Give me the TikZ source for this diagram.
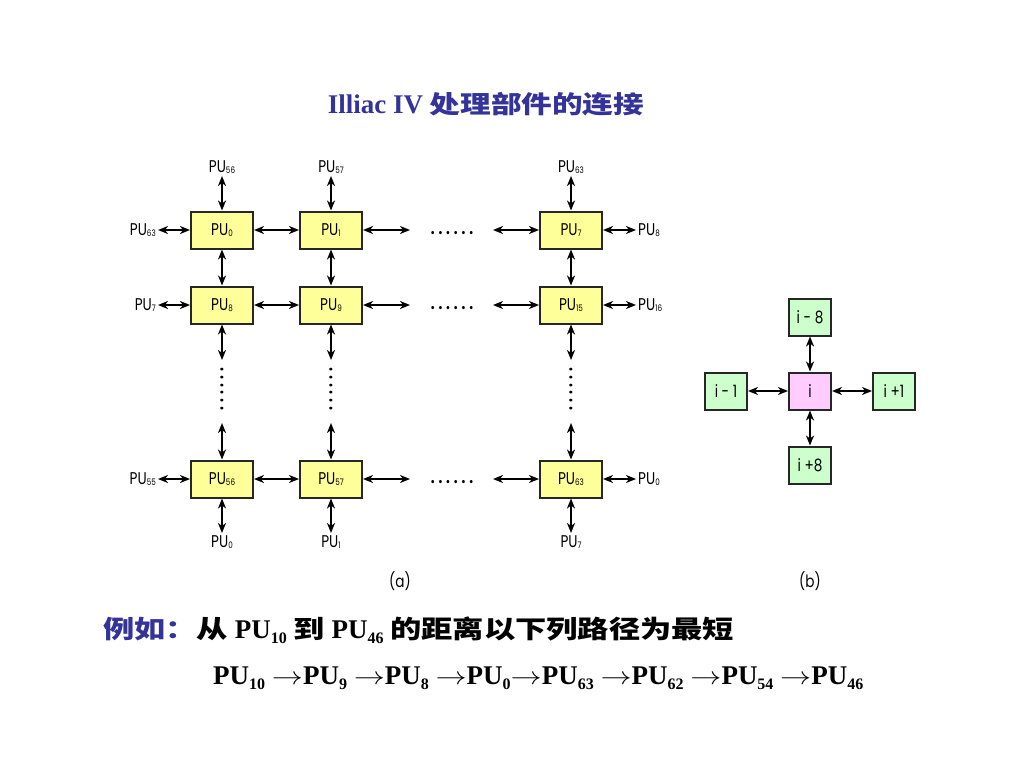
\documentclass[tikz,border=0pt]{standalone}
\usepackage{fontspec}
\usepackage{tikz}
\usetikzlibrary{arrows.meta}
\usepackage{xcolor}
\setmainfont{Liberation Serif}
\newfontfamily\cjk[FakeStretch=1.25]{Noto Sans CJK SC}
\newfontfamily\labfont[FakeStretch=0.8]{Poppins}
\definecolor{titleblue}{RGB}{51,51,153}
\definecolor{puyellow}{RGB}{255,255,153}
\definecolor{cellpink}{RGB}{255,204,255}
\definecolor{cellgreen}{RGB}{204,255,204}
\newcommand{\pu}[1]{PU\raisebox{-1pt}{\fontsize{9}{9}\selectfont #1}}
\newcommand{\bpu}[1]{PU\raisebox{-5pt}{\fontsize{16}{16}\selectfont #1}}
\newcommand{\via}{\scalebox{1.25}[1]{$\rightarrow$}}

\begin{document}
\begin{tikzpicture}[x=1pt, y=-1pt,
  pu/.style={draw=black!85, line width=2pt, fill=puyellow, minimum width=62pt, minimum height=37pt, inner sep=0pt, font=\labfont\fontsize{17}{17}\selectfont},
  cell/.style={draw=black!85, line width=2pt, fill=cellgreen, minimum width=42pt, minimum height=37pt, inner sep=0pt, font=\labfont\fontsize{17}{17}\selectfont},
  lbl/.style={inner sep=2pt, font=\labfont\fontsize{17}{17}\selectfont},
  link/.style={<->, line width=2pt},
  >={Stealth[length=10pt,width=8pt,inset=3pt]}]
  \useasboundingbox (0,0) rectangle (1024,768);
  \node[font=\bfseries\fontsize{27}{30}\selectfont, text=titleblue, anchor=base] (title) at (486,113) {Illiac IV {\cjk\fontsize{24.5}{30}\selectfont 处理部件的连接}};

  \node[pu] (pu0) at (222,230) {\pu{0}};
  \node[pu] (pu1) at (331,230) {\pu{1}};
  \node[pu] (pu7) at (571,230) {\pu{7}};
  \node[pu] (pu8) at (222,305) {\pu{8}};
  \node[pu] (pu9) at (331,305) {\pu{9}};
  \node[pu] (pu15) at (571,305) {\pu{15}};
  \node[pu] (pu56) at (222,479) {\pu{56}};
  \node[pu] (pu57) at (331,479) {\pu{57}};
  \node[pu] (pu63) at (571,479) {\pu{63}};

  \node[lbl, anchor=south] (t0) at (222,176) {\pu{56}};
  \node[lbl, anchor=south] (t1) at (331,176) {\pu{57}};
  \node[lbl, anchor=south] (t7) at (571,176) {\pu{63}};
  \node[lbl, anchor=east] (l0) at (158,230) {\pu{63}};
  \node[lbl, anchor=east] (l1) at (158,305) {\pu{7}};
  \node[lbl, anchor=east] (l7) at (158,479) {\pu{55}};
  \node[lbl, anchor=west] (r0) at (636,230) {\pu{8}};
  \node[lbl, anchor=west] (r1) at (636,305) {\pu{16}};
  \node[lbl, anchor=west] (r7) at (636,479) {\pu{0}};
  \node[lbl, anchor=north] (b0) at (222,533) {\pu{0}};
  \node[lbl, anchor=north] (b1) at (331,533) {\pu{1}};
  \node[lbl, anchor=north] (b7) at (571,533) {\pu{7}};

  \node[lbl] (hd0) at (452,233) {\bfseries . . . . . .};
  \node[lbl] (hd1) at (452,308) {\bfseries . . . . . .};
  \node[lbl] (hd7) at (452,482) {\bfseries . . . . . .};
  \node[lbl, rotate=90] (vd0) at (222,389) {\bfseries . . . . . .};
  \node[lbl, rotate=90] (vd1) at (331,389) {\bfseries . . . . . .};
  \node[lbl, rotate=90] (vd7) at (571,389) {\bfseries . . . . . .};
  \coordinate (h0a) at (410,230);
  \coordinate (h0b) at (493,230);
  \coordinate (h1a) at (410,305);
  \coordinate (h1b) at (493,305);
  \coordinate (h7a) at (410,479);
  \coordinate (h7b) at (493,479);
  \coordinate (v0a) at (222,360);
  \coordinate (v0b) at (222,423);
  \coordinate (v1a) at (331,360);
  \coordinate (v1b) at (331,423);
  \coordinate (v7a) at (571,360);
  \coordinate (v7b) at (571,423);

  \draw[link] (t0.south) -- (pu0);
  \draw[link] (t1.south) -- (pu1);
  \draw[link] (t7.south) -- (pu7);
  \draw[link] (l0.east) -- (pu0.west);
  \draw[link] (l1.east) -- (pu8.west);
  \draw[link] (l7.east) -- (pu56.west);
  \draw[link] (pu0) -- (pu1);
  \draw[link] (pu8) -- (pu9);
  \draw[link] (pu56) -- (pu57);
  \draw[link] (pu1) -- (h0a);
  \draw[link] (pu9) -- (h1a);
  \draw[link] (pu57) -- (h7a);
  \draw[link] (h0b) -- (pu7);
  \draw[link] (h1b) -- (pu15);
  \draw[link] (h7b) -- (pu63);
  \draw[link] (pu7.east) -- (r0.west);
  \draw[link] (pu15.east) -- (r1.west);
  \draw[link] (pu63.east) -- (r7.west);
  \draw[link] (pu0) -- (pu8);
  \draw[link] (pu1) -- (pu9);
  \draw[link] (pu7) -- (pu15);
  \draw[link] (pu8) -- (v0a);
  \draw[link] (pu9) -- (v1a);
  \draw[link] (pu15) -- (v7a);
  \draw[link] (v0b) -- (pu56);
  \draw[link] (v1b) -- (pu57);
  \draw[link] (v7b) -- (pu63);
  \draw[link] (pu56) -- (b0.north);
  \draw[link] (pu57) -- (b1.north);
  \draw[link] (pu63) -- (b7.north);

  \node[cell, fill=cellpink] (ci) at (810,391) {i};
  \node[cell] (cup) at (810,317) {i - 8};
  \node[cell] (cdown) at (810,465) {i +8};
  \node[cell] (cleft) at (726,391) {i - 1};
  \node[cell] (cright) at (894,391) {i +1};
  \draw[link] (cup) -- (ci);
  \draw[link] (ci) -- (cdown);
  \draw[link] (cleft) -- (ci);
  \draw[link] (ci) -- (cright);

  \node[lbl] (capa) at (400,581) {(a)};
  \node[lbl] (capb) at (810,581) {(b)};

  \node[font=\bfseries\fontsize{27}{30}\selectfont, anchor=base west, inner sep=0pt] (example) at (103,638) {{\cjk\fontsize{25}{30}\selectfont\color{titleblue}例如：}{\cjk\fontsize{25}{30}\selectfont 从} \bpu{10} {\cjk\fontsize{25}{30}\selectfont 到} \bpu{46} {\cjk\fontsize{25}{30}\selectfont 的距离以下列路径为最短}};
  \node[font=\bfseries\fontsize{27}{30}\selectfont, anchor=base west, inner sep=0pt] (path) at (213,684) {\bpu{10} \via\bpu{9} \via\bpu{8} \via\bpu{0}\via\bpu{63} \via\bpu{62} \via\bpu{54} \via\bpu{46}};
\end{tikzpicture}
\end{document}
